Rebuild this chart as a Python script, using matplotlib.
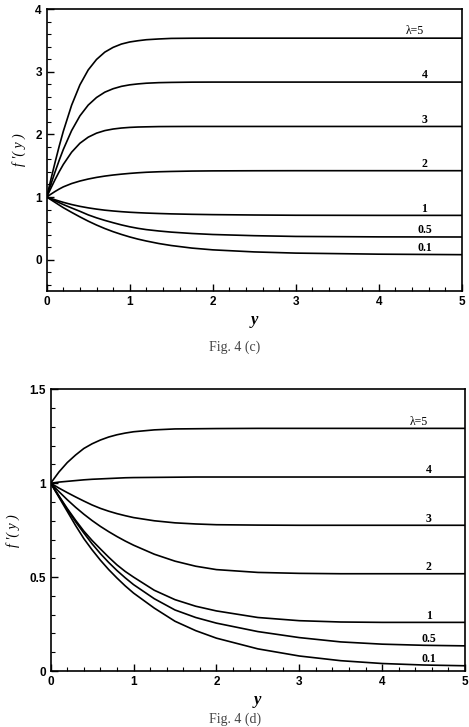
import matplotlib
matplotlib.use('Agg')

import matplotlib.pyplot as plt
from matplotlib.ticker import MultipleLocator, FixedLocator

matplotlib.rcParams.update({'font.size': 8, 'font.family': ['Liberation Sans', 'DejaVu Sans']})
serif = ['Liberation Serif', 'DejaVu Serif']

# ---- Fig. 4 (c) data ----
y_c = [0, 0.05, 0.1, 0.15, 0.2, 0.3, 0.4, 0.5, 0.6, 0.7, 0.8, 0.9, 1.0, 1.1, 1.2,
       1.35, 1.5, 1.75, 2.0, 2.5, 3.0, 4.0, 5.0]
c_lam5 = [1.0, 1.279, 1.550, 1.809, 2.049, 2.465, 2.790, 3.028, 3.195, 3.312, 3.388, 3.441,
          3.474, 3.494, 3.510, 3.522, 3.531, 3.534, 3.535, 3.535, 3.535, 3.535, 3.535]
c_lam4 = [1.0, 1.202, 1.398, 1.585, 1.759, 2.060, 2.295, 2.467, 2.588, 2.673, 2.728, 2.766,
          2.790, 2.805, 2.816, 2.825, 2.829, 2.833, 2.834, 2.834, 2.834, 2.834, 2.834]
c_lam3 = [1.0, 1.140, 1.276, 1.403, 1.520, 1.715, 1.858, 1.955, 2.019, 2.060, 2.085, 2.101,
          2.111, 2.117, 2.120, 2.124, 2.125, 2.126, 2.126, 2.126, 2.126, 2.126, 2.126]
c_lam2 = [1.0, 1.045, 1.088, 1.127, 1.162, 1.215, 1.255, 1.287, 1.313, 1.334, 1.351, 1.365,
          1.377, 1.387, 1.395, 1.403, 1.408, 1.414, 1.417, 1.419, 1.42, 1.42, 1.42]
c_lam1 = [1.0, 0.978, 0.956, 0.935, 0.915, 0.88, 0.851, 0.827, 0.807, 0.79, 0.777, 0.766,
          0.757, 0.75, 0.744, 0.737, 0.731, 0.724, 0.719, 0.713, 0.709, 0.707, 0.707]
c_lam05 = [1.0, 0.97, 0.94, 0.91, 0.88, 0.825, 0.772, 0.715, 0.668, 0.627, 0.59, 0.555,
           0.525, 0.5, 0.48, 0.458, 0.44, 0.418, 0.402, 0.383, 0.371, 0.364, 0.362]
c_lam01 = [1.0, 0.957, 0.915, 0.872, 0.83, 0.755, 0.683, 0.615, 0.553, 0.497, 0.447, 0.403,
           0.363, 0.328, 0.298, 0.258, 0.226, 0.185, 0.157, 0.124, 0.105, 0.088, 0.08]

# ---- Fig. 4 (d) data ----
y_d = [0, 0.1, 0.2, 0.3, 0.4, 0.5, 0.6, 0.7, 0.8, 0.9, 1.0, 1.25, 1.5, 1.75, 2.0,
       2.5, 3.0, 3.5, 4.0, 4.5, 5.0]
d_lam5 = [1.0, 1.06, 1.11, 1.15, 1.185, 1.21, 1.23, 1.246, 1.258, 1.267, 1.274, 1.284,
          1.289, 1.29, 1.291, 1.292, 1.292, 1.292, 1.292, 1.292, 1.292]
d_lam4 = [1.0, 1.006, 1.01, 1.014, 1.018, 1.021, 1.023, 1.025, 1.027, 1.029, 1.03, 1.031,
          1.032, 1.033, 1.033, 1.033, 1.033, 1.033, 1.033, 1.033, 1.033]
d_lam3 = [1.0, 0.974, 0.95, 0.927, 0.905, 0.884, 0.866, 0.851, 0.838, 0.827, 0.817, 0.80,
          0.789, 0.783, 0.779, 0.777, 0.776, 0.776, 0.776, 0.776, 0.776]
d_lam2 = [1.0, 0.955, 0.912, 0.872, 0.835, 0.801, 0.770, 0.742, 0.716, 0.692, 0.670, 0.622,
          0.585, 0.558, 0.540, 0.525, 0.520, 0.518, 0.518, 0.518, 0.518]
d_lam1 = [1.0, 0.932, 0.865, 0.803, 0.745, 0.695, 0.65, 0.606, 0.565, 0.53, 0.50, 0.43,
          0.38, 0.345, 0.32, 0.285, 0.268, 0.261, 0.259, 0.259, 0.259]
d_lam05 = [1.0, 0.93, 0.86, 0.795, 0.735, 0.677, 0.625, 0.578, 0.535, 0.496, 0.46, 0.385,
           0.325, 0.285, 0.255, 0.21, 0.178, 0.155, 0.143, 0.137, 0.134]
d_lam01 = [1.0, 0.925, 0.85, 0.775, 0.705, 0.645, 0.59, 0.54, 0.495, 0.453, 0.415, 0.335,
           0.265, 0.215, 0.175, 0.118, 0.08, 0.055, 0.04, 0.032, 0.028]

labels = ['λ=5', '4', '3', '2', '1', '0.5', '0.1']


def style_axes(ax, ymin, ymax, ymajor, yminor, yticklabels):
  ax.set_xlim(0, 5)
  ax.set_ylim(ymin, ymax)
  ax.xaxis.set_major_locator(MultipleLocator(1))
  ax.xaxis.set_minor_locator(MultipleLocator(0.2))
  ax.yaxis.set_major_locator(FixedLocator(ymajor))
  ax.yaxis.set_minor_locator(MultipleLocator(yminor))
  ax.set_yticklabels(yticklabels)
  ax.tick_params(which='both', direction='in', top=False, right=False)
  ax.tick_params(which='major', length=5, width=1.0, pad=3.5, labelsize=8.5)
  ax.tick_params(which='minor', length=3, width=0.8)
  for lab in ax.get_xticklabels() + ax.get_yticklabels():
    lab.set_fontweight('bold')
  for s in ax.spines.values():
    s.set_linewidth(1.2)
  ax.set_xlabel('y', family=serif, style='italic', weight='bold', fontsize=12, labelpad=3)
  ax.set_ylabel("f ′( y )", family=serif, style='italic', fontsize=10, labelpad=7)


def draw_panel(ax, x, curves, label_x):
  for i, c in enumerate(curves):
    ax.plot(x, c, color='k', lw=1.2)
    lx = label_x - 0.12 if i == 0 else label_x
    ax.annotate(labels[i], xy=(lx, c[-1]), xytext=(0, 0.5), textcoords='offset points',
                ha='center', va='bottom', family=serif, fontsize=8.5,
                weight='normal' if i == 0 else 'bold')


fig = plt.figure(figsize=(4.69, 7.27), dpi=100)

ax1 = fig.add_axes([0.0996, 0.5997, 0.8849, 0.3879])
draw_panel(ax1, y_c, [c_lam5, c_lam4, c_lam3, c_lam2, c_lam1, c_lam05, c_lam01], 4.55)
style_axes(ax1, -0.5, 4, [0, 1, 2, 3, 4], 0.2, ['0', '1', '2', '3', '4'])
fig.text(0.501, 1 - 347 / 727, 'Fig. 4 (c)', ha='center', va='center',
         family=serif, fontsize=10, color='#444444')

ax2 = fig.add_axes([0.1081, 0.0770, 0.8834, 0.3875])
draw_panel(ax2, y_d, [d_lam5, d_lam4, d_lam3, d_lam2, d_lam1, d_lam05, d_lam01], 4.56)
style_axes(ax2, 0, 1.5, [0, 0.5, 1, 1.5], 0.1, ['0', '0.5', '1', '1.5'])
fig.text(0.501, 0.002, 'Fig. 4 (d)', ha='center', va='bottom',
         family=serif, fontsize=10, color='#444444')

fig.savefig('out.png', dpi=100)
plt.close()
